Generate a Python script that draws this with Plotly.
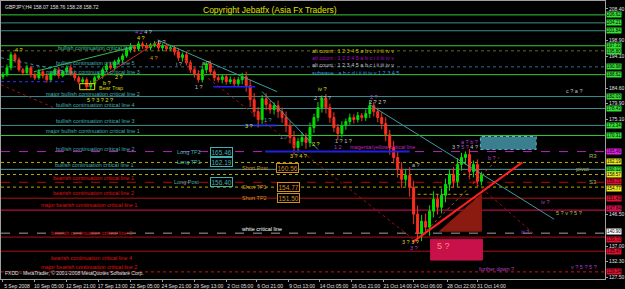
import plotly.graph_objects as go

# ---------------- data ----------------
bar_index = list(range(0, 242, 2))  # 8-hour steps in H4 bar units
first_open = 188.0
closes = [
    188.6, 190.7, 194.6, 193.1, 190.1, 189.2, 190.7, 188.6, 187.7, 189.5,
    188.3, 187.1, 188.9, 190.1, 188.3, 189.5, 190.7, 188.9, 187.7, 186.5,
    187.1, 185.0, 185.9, 187.7, 188.3, 190.1, 191.3, 190.7, 192.5, 193.1,
    194.3, 196.1, 197.0, 196.4, 197.9, 197.3, 196.7, 197.6, 197.9, 196.7,
    197.3, 196.4, 196.7, 195.5, 193.7, 194.6, 192.2, 190.1, 188.9, 187.1,
    190.1, 191.9, 189.5, 187.7, 187.1, 188.0, 186.5, 187.1, 185.9, 187.1,
    188.0, 185.3, 181.1, 177.5, 175.1, 181.4, 179.6, 178.1, 179.3, 177.5,
    175.7, 173.3, 169.7, 166.7, 168.5, 169.7, 168.2, 172.7, 175.7, 178.7,
    181.4, 178.7, 175.7, 172.7, 170.9, 173.3, 174.5, 175.7, 175.1, 176.3,
    175.7, 176.9, 179.3, 177.5, 175.7, 173.9, 170.6, 166.7, 163.7, 160.1,
    157.1, 158.3, 154.7, 146.6, 140.9, 144.5, 142.7, 147.5, 151.1, 148.7,
    152.3, 155.6, 158.6, 156.5, 161.6, 163.7, 164.6, 159.5, 161.6, 156.5,
    158.6,
]
upper_wick = [
    0.8, 1.0, 0.9, 0.6, 0.7, 0.5, 0.9, 0.6, 0.7, 0.8,
    0.6, 0.7, 0.9, 0.5, 0.8, 0.6, 0.7, 0.9, 0.5, 0.6,
    0.8, 0.7, 0.9, 0.6, 0.8, 0.7, 0.9, 1.0, 0.6, 0.8,
    0.7, 0.9, 1.1, 0.6, 0.8, 0.7, 0.9, 0.6, 0.8, 1.0,
    0.7, 0.6, 0.9, 0.8, 1.2, 0.7, 1.0, 0.8, 0.9, 1.1,
    1.3, 0.8, 1.0, 0.7, 0.9, 0.6, 0.8, 1.0, 0.7, 0.9,
    1.2, 1.5, 1.8, 2.0, 1.4, 1.1, 1.6, 1.3, 1.0, 1.5,
    1.2, 1.8, 1.4, 2.0, 1.1, 1.6, 1.3, 1.5, 1.2, 1.7,
    1.0, 1.4, 1.2, 1.6, 1.1, 1.3, 0.9, 1.2, 1.0, 1.1,
    0.8, 1.3, 1.5, 1.0, 1.2, 1.6, 1.9, 1.4, 2.0, 1.7,
    2.2, 1.8, 2.5, 2.0, 2.6, 1.9, 2.3, 1.8, 2.4, 1.6,
    2.0, 1.7, 1.5, 2.2, 1.8, 1.4, 0.9, 1.6, 1.2, 1.5,
    0.8,
]
lower_wick = [
    0.7, 0.6, 0.8, 0.9, 0.6, 0.8, 0.5, 0.9, 0.7, 0.6,
    0.8, 0.9, 0.6, 0.7, 0.9, 0.5, 0.8, 0.6, 0.9, 0.7,
    0.6, 1.0, 0.7, 0.8, 0.6, 0.9, 0.7, 0.6, 0.8, 0.7,
    0.9, 0.6, 0.8, 1.0, 0.7, 0.9, 0.6, 0.8, 0.7, 0.9,
    1.0, 0.8, 0.7, 1.1, 0.9, 1.2, 0.8, 1.0, 1.2, 0.9,
    0.8, 1.1, 0.9, 1.0, 0.8, 1.1, 0.9, 0.7, 1.0, 0.8,
    1.4, 1.8, 2.2, 1.6, 2.4, 1.3, 1.7, 1.2, 1.5, 1.9,
    1.6, 2.0, 1.8, 2.2, 1.5, 1.3, 1.9, 1.4, 1.6, 1.2,
    1.5, 1.8, 1.6, 1.4, 1.9, 1.2, 1.3, 1.0, 1.2, 0.9,
    1.1, 1.0, 1.3, 1.5, 1.4, 1.7, 2.0, 2.2, 1.8, 2.4,
    2.6, 2.0, 2.8, 3.0, 1.9, 2.4, 2.1, 2.6, 1.9, 2.2,
    1.8, 2.1, 1.9, 2.0, 1.6, 1.9, 2.2, 2.4, 1.8, 1.6,
    1.2,
]

x_tick_pos = [0, 16, 32, 48, 64, 80, 96, 112, 127, 143, 159, 175, 191, 206, 223, 238]
x_tick_text = ["5 Sep 2008", "10 Sep 05:00", "12 Sep 21:00", "17 Sep 13:00", "22 Sep 05:00",
               "24 Sep 21:00", "29 Sep 13:00", "2 Oct 05:00", "6 Oct 21:00", "9 Oct 13:00",
               "14 Oct 05:00", "16 Oct 21:00", "21 Oct 14:00", "24 Oct 06:00", "28 Oct 22:00",
               "31 Oct 14:00"]
y_tick_vals = [208.40, 198.90, 194.10, 184.60, 179.90, 175.10, 146.50, 137.00, 132.30, 127.50]

# horizontal critical levels
level_prices = [206.62, 204.21, 201.84, 197.33, 195.80, 190.98, 188.62, 182.03, 178.43, 173.34,
                170.31, 165.46, 162.19, 160.12, 158.57, 156.21, 154.77, 151.43, 147.84, 140.90,
                139.72, 135.47, 129.24]
level_colors = ["#33cc33", "#3c8c8c", "#3c8c8c", "#33cc33", "#6a6a10", "#3a6a8a", "#33cc33",
                "#3c8c8c", "#3c8c8c", "#3c8c8c", "#33cc33", "#c020c0", "#b0b000", "#5a9a9a",
                "#b0b000", "#c00000", "#b0b000", "#b01010", "#e0105a", "#a0a0a0", "#b01010",
                "#b01010", "#d01010"]
level_dash = ["solid", "solid", "solid", "solid", "dot", "dot", "solid", "solid", "solid", "solid",
              "solid", "dash", "dot", "solid", "dot", "dash", "dot", "solid", "solid", "dash",
              "solid", "solid", "dot"]
level_box = ["#33e033", "#33e033", "#33e033", "#33e033", "#33e033", "#33e033", "#33e033",
             "#33e033", "#33e033", "#33e033", "#33e033", "#e020e0", "#e8e820", "#33e033",
             "#e8e820", "#e01030", "#e8e820", "#e01030", "#e01050", "#ffffff", "#e01030",
             "#e01030", "#e01030"]
level_box_shift = [0, 0, 0, 0.5, -1, 0, 0, 0, 0, 0, 0, 0, 1, 0, 0, 1, -1, 0, 2, 2, -2, 0, 0]

# trend lines: (x0, y0, x1, y1) in bar index / price
trend_x0 = [77.5, 130.0, 184.0, -1.0, 15.5, -1.0, 81.5, 41.5, 205.5, 226.5, 208.0]
trend_y0 = [199.1, 183.5, 179.6, 193.7, 189.5, 185.6, 197.6, 184.7, 138.2, 161.6, 139.1]
trend_x1 = [137.5, 158.0, 276.5, 32.5, 65.5, 26.5, 209.0, 77.5, 260.5, 266.5, 249.0]
trend_y1 = [183.5, 166.1, 145.1, 189.5, 197.0, 178.4, 137.6, 198.5, 162.2, 140.6, 163.7]
trend_color = ["#3c9c9c", "#3c9c9c", "#3c9c9c", "#3c8c9c", "#33bb55", "#a01010", "#a01010",
               "#e02020", "#ff2020", "#a01010", "#b05010"]
trend_dash = ["solid", "solid", "solid", "dot", "solid", "dot", "dot", "solid", "solid", "dot", "dot"]
trend_width = [1, 1, 1, 1, 1, 1, 1, 1, 2, 1, 1]

# short horizontal segments
seg_x0 = [-1.0, 105.5, 120.5, 131.5, 208.0]
seg_x1 = [31.5, 126.5, 137.5, 204.0, 234.0]
seg_y = [186.5, 185.0, 173.3, 165.5, 152.6]
seg_color = ["#3030ff", "#2020ff", "#2040ff", "#2020e0", "#a0a000"]
seg_width = [1, 1.5, 1.5, 2, 1]

# trade levels
trade_names = ["Long TP2", "Long TP1", "Long Post", "Short Post", "Short TP1", "Short TP2"]
trade_prices = [165.46, 162.19, 156.40, 160.56, 154.77, 151.50]

# line captions
caption_text = [
    "bullish continuation critical line", "bullish continuation critical line 5",
    "major bullish continuation critical line 3", "major bullish continuation critical line 2",
    "bullish continuation critical line 4", "bullish continuation critical line 3",
    "major bullish continuation critical line 1", "bullish continuation critical line 2",
    "bullish continuation critical line 1", "bearish continuation critical line 1",
    "bearish continuation critical line 2", "major bearish continuation critical line 1",
    "bearish continuation critical line 3", "bearish continuation critical line 4",
    "major bearish continuation critical line 2", "white critical line",
    "magenta/yellow critical line",
]

wave_text = [
    "4 ?", "<span style='color:#b040d0'>4 2</span> 4 ?", "4 ?", "b ?", "2 ?", "b ?", "4 ?", "i ?",
    "1 ?", "a ?", "iv ?", "2 ? ? ?", "2 ?", "c ? a ?", "2 ? 2 ?", "1 ?", "1 ?", "3 ?",
    "3 ? 4 ?", "1 ? 1 ?", "1 2", "2 ?", "3 ? <span style='color:#b040d0'>5 ?</span> 4 ?",
    "a ? b ?", "b ?", "a ?", "iv ?", "5 ? v ? 5 ?", "iii ?", "3 ? 3 ?", "3 ?",
    "further down ?", "v ? 5 ? 5 ?", "5 ? 3 ? 2 ?",
]

# ---------------- layout helpers (positions / styles) ----------------
caption_pos = [(26.5, 196.7), (25.5, 192.2), (20.5, 189.5), (20.5, 182.9), (25.5, 179.6),
               (25.5, 174.8), (20.5, 171.8), (25.5, 166.1), (25.0, 161.3), (24.0, 157.4),
               (24.0, 152.9), (18.0, 149.3), (23.0, 140.9), (23.0, 133.4), (18.0, 130.7),
               (118.5, 142.1), (173.0, 166.7)]
caption_color = ["#40c0a0", "#40b0b0", "#40b0b0", "#40b0b0", "#40b0b0", "#40b0b0", "#40b0b0",
                 "#40b0b0", "#40b0b0", "#e01010", "#e01010", "#e01010", "#e01010", "#e01010",
                 "#e01010", "#ffffff", "#c020c0"]
wave_pos = [(5, 196.1), (65, 201.5), (66, 199.7), (77, 198.5), (55, 188.0), (49, 186.2),
            (72.5, 193.7), (86, 191.9), (95.5, 185.0), (99, 192.2), (157, 184.4), (155, 181.7),
            (183, 182.0), (281.5, 183.8), (182.5, 180.5), (130, 175.1), (138, 170.0),
            (120.5, 173.3), (143, 164.0), (165.5, 168.5), (165, 166.7), (154, 167.6),
            (224, 166.7), (229, 168.2), (242.5, 163.4), (204, 161.3), (269, 150.2),
            (276.5, 146.9), (259, 141.2), (199, 138.2), (203, 136.4), (238, 130.1),
            (284, 130.7), (41, 181.1)]
wave_color = ["#e0e000", "#c0c0c0", "#e0e000", "#c0c0c0", "#e0e000", "#e0e000", "#e09000",
              "#c0c0c0", "#c0c0c0", "#c0c0c0", "#e0e000", "#c0c0c0", "#b040d0", "#c0c0c0",
              "#d0d0d0", "#40b0b0", "#40b0b0", "#e0e000", "#e0e000", "#c0c0c0", "#b040d0",
              "#e0e000", "#c0c0c0", "#b040d0", "#b040d0", "#c0c0c0", "#b040d0", "#c0c040",
              "#b040d0", "#d0d040", "#b040d0", "#b040d0", "#b040d0", "#e0e000"]

FONT = "Liberation Sans"
X_RANGE = [-1, 302]
Y_RANGE = [127.1, 210.8]

opens = [first_open] + closes[:-1]
highs = [max(o, c) + w for o, c, w in zip(opens, closes, upper_wick)]
lows = [min(o, c) - w for o, c, w in zip(opens, closes, lower_wick)]

fig = go.Figure()
fig.add_trace(go.Candlestick(
    x=bar_index, open=opens, high=highs, low=lows, close=closes,
    increasing=dict(line=dict(color="#00e000", width=1), fillcolor="#00e000"),
    decreasing=dict(line=dict(color="#ff3020", width=1), fillcolor="#ff3020"),
    whiskerwidth=0, showlegend=False, hoverinfo="skip"))

shapes = []
annotations = []

# horizontal levels
for p, c, d, b, s in zip(level_prices, level_colors, level_dash, level_box, level_box_shift):
    shapes.append(dict(type="line", xref="paper", x0=0, x1=1, yref="y", y0=p, y1=p,
                       line=dict(color=c, width=1, dash=d), layer="below"))
    annotations.append(dict(xref="paper", x=1, xanchor="left", xshift=1, yref="y", y=p,
                            yanchor="middle", yshift=s, text=f"{p:.2f}", showarrow=False,
                            font=dict(family=FONT, size=4.5, color="#000000"),
                            bgcolor=b, borderpad=0))

# short segments
for x0, x1, y, c, w in zip(seg_x0, seg_x1, seg_y, seg_color, seg_width):
    shapes.append(dict(type="line", x0=x0, x1=x1, y0=y, y1=y, xref="x", yref="y",
                       line=dict(color=c, width=w, dash="dot" if w == 1 else "solid")))

# trend lines
for x0, y0, x1, y1, c, d, w in zip(trend_x0, trend_y0, trend_x1, trend_y1, trend_color,
                                   trend_dash, trend_width):
    shapes.append(dict(type="line", x0=x0, y0=y0, x1=x1, y1=y1, xref="x", yref="y",
                       line=dict(color=c, width=w, dash=d)))

# rectangles / regions
shapes.append(dict(type="rect", x0=38.5, x1=46, y0=184.1, y1=185.9,
                   line=dict(color="#e0e000", width=1)))
shapes.append(dict(type="rect", x0=239.5, x1=267.5, y0=166.1, y1=170.0,
                   fillcolor="#3a7f8e", line=dict(color="#6ab0c0", width=1, dash="dot")))
shapes.append(dict(type="path", path="M 219,141.5 L 240,152.6 L 240,141.5 Z",
                   fillcolor="#8b1a10", line=dict(color="#8b1a10", width=1), layer="below"))
shapes.append(dict(type="rect", x0=214.5, x1=240.5, y0=132.8, y1=139.1,
                   fillcolor="#c8104a", line=dict(color="#c8104a", width=1)))

# captions
for t, (x, y), c in zip(caption_text, caption_pos, caption_color):
    annotations.append(dict(x=x, y=y, text=t, showarrow=False, xanchor="left", yanchor="middle",
                            font=dict(family=FONT, size=5.5, color=c)))

# waves
for t, (x, y), c in zip(wave_text, wave_pos, wave_color):
    annotations.append(dict(x=x, y=y, text=t, showarrow=False, xanchor="left", yanchor="middle",
                            font=dict(family=FONT, size=5.5, color=c)))
annotations.append(dict(x=216.5, y=137.0, text="5 ?", showarrow=False, xanchor="left",
                        yanchor="middle", font=dict(family=FONT, size=9, color="#ff9070")))
annotations.append(dict(x=47.0, y=184.5, text="Bear Trap", showarrow=False, xanchor="left",
                        yanchor="middle", font=dict(family=FONT, size=5.5, color="#d0d000")))

# trade boxes
trade_label_x = [86.5, 86.5, 85.0, 119.0, 119.0, 119.0]
trade_box_x = [104.0, 104.0, 104.0, 137.0, 137.5, 137.5]
for n, p, lx, bx in zip(trade_names, trade_prices, trade_label_x, trade_box_x):
    col = "#40b0b0" if n.startswith("Long") else "#d09020"
    annotations.append(dict(x=lx, y=p, text=n, showarrow=False, xanchor="left", yanchor="middle",
                            font=dict(family=FONT, size=5.5, color=col)))
    annotations.append(dict(x=bx, y=p, text=f"{p:.2f}", showarrow=False, xanchor="left",
                            yanchor="middle", font=dict(family=FONT, size=6.5, color=col),
                            bordercolor=col, borderwidth=1, borderpad=0.5, bgcolor="#000000"))

# pivot labels
for t, x, p in zip(["R3", "pivot", "S3"], [293, 286.5, 293], [164.0, 160.1, 156.2]):
    annotations.append(dict(x=x, y=p, text=t, showarrow=False, xanchor="left", yanchor="middle",
                            font=dict(family=FONT, size=6, color="#b0b060")))

# alt counts
alt_text = ["alt count : 1 2 3 4 5 a b c i ii iii iv v", "alt count : 1 2 3 4 5 a b c i ii iii iv v",
            "alt count : 1 2 3 4 5 a b c i ii iii iv v", "subwave : a b c d i ii iii iv v 1 2 3 4 5"]
alt_color = ["#c8c800", "#b000c0", "#c0c0c0", "#3aa0e0"]
for t, p, c in zip(alt_text, [195.8, 193.7, 191.6, 189.2], alt_color):
    annotations.append(dict(x=154, y=p, text=t, showarrow=False, xanchor="left", yanchor="middle",
                            font=dict(family=FONT, size=5.5, color=c)))

annotations.append(dict(x=99.5, y=208.1, text="Copyright Jebatfx (Asia Fx Traders)", showarrow=False,
                        xanchor="left", yanchor="middle",
                        font=dict(family=FONT, size=8.5, color="#e0e000")))
annotations.append(dict(xref="paper", x=0.004, yref="paper", y=0.995, xanchor="left", yanchor="top",
                        text="GBPJPY,H4 158.07 158.76 158.28 158.72", showarrow=False,
                        font=dict(family=FONT, size=5, color="#e0e0e0")))
annotations.append(dict(xref="paper", x=0.004, yref="paper", y=0.005, xanchor="left", yanchor="bottom",
                        text="FXDD - MetaTrader, © 2001-2008 MetaQuotes Software Corp.", showarrow=False,
                        font=dict(family=FONT, size=5, color="#e0e0e0")))

fig.update_layout(
    width=625, height=289, margin=dict(l=0, r=19, t=1, b=9),
    paper_bgcolor="#000000", plot_bgcolor="#000000",
    shapes=shapes, annotations=annotations, showlegend=False,
    xaxis=dict(range=X_RANGE, showgrid=False, zeroline=False, rangeslider=dict(visible=False),
               tickvals=x_tick_pos, ticktext=x_tick_text, ticks="outside", ticklen=2,
               tickangle=0, tickcolor="#a0a0a0", showline=True, linecolor="#a0a0a0", mirror=True,
               tickfont=dict(family=FONT, size=5, color="#e0e0e0"), ticklabelshift=14,
               ticklabelstandoff=0),
    yaxis=dict(range=Y_RANGE, side="right", showgrid=False, zeroline=False,
               tickvals=y_tick_vals, ticktext=[f"{v:.2f}" for v in y_tick_vals],
               ticks="outside", ticklen=2, tickcolor="#a0a0a0", showline=True,
               linecolor="#a0a0a0", mirror=True,
               tickfont=dict(family=FONT, size=5, color="#e0e0e0")),
)

fig.write_html("out.html")
